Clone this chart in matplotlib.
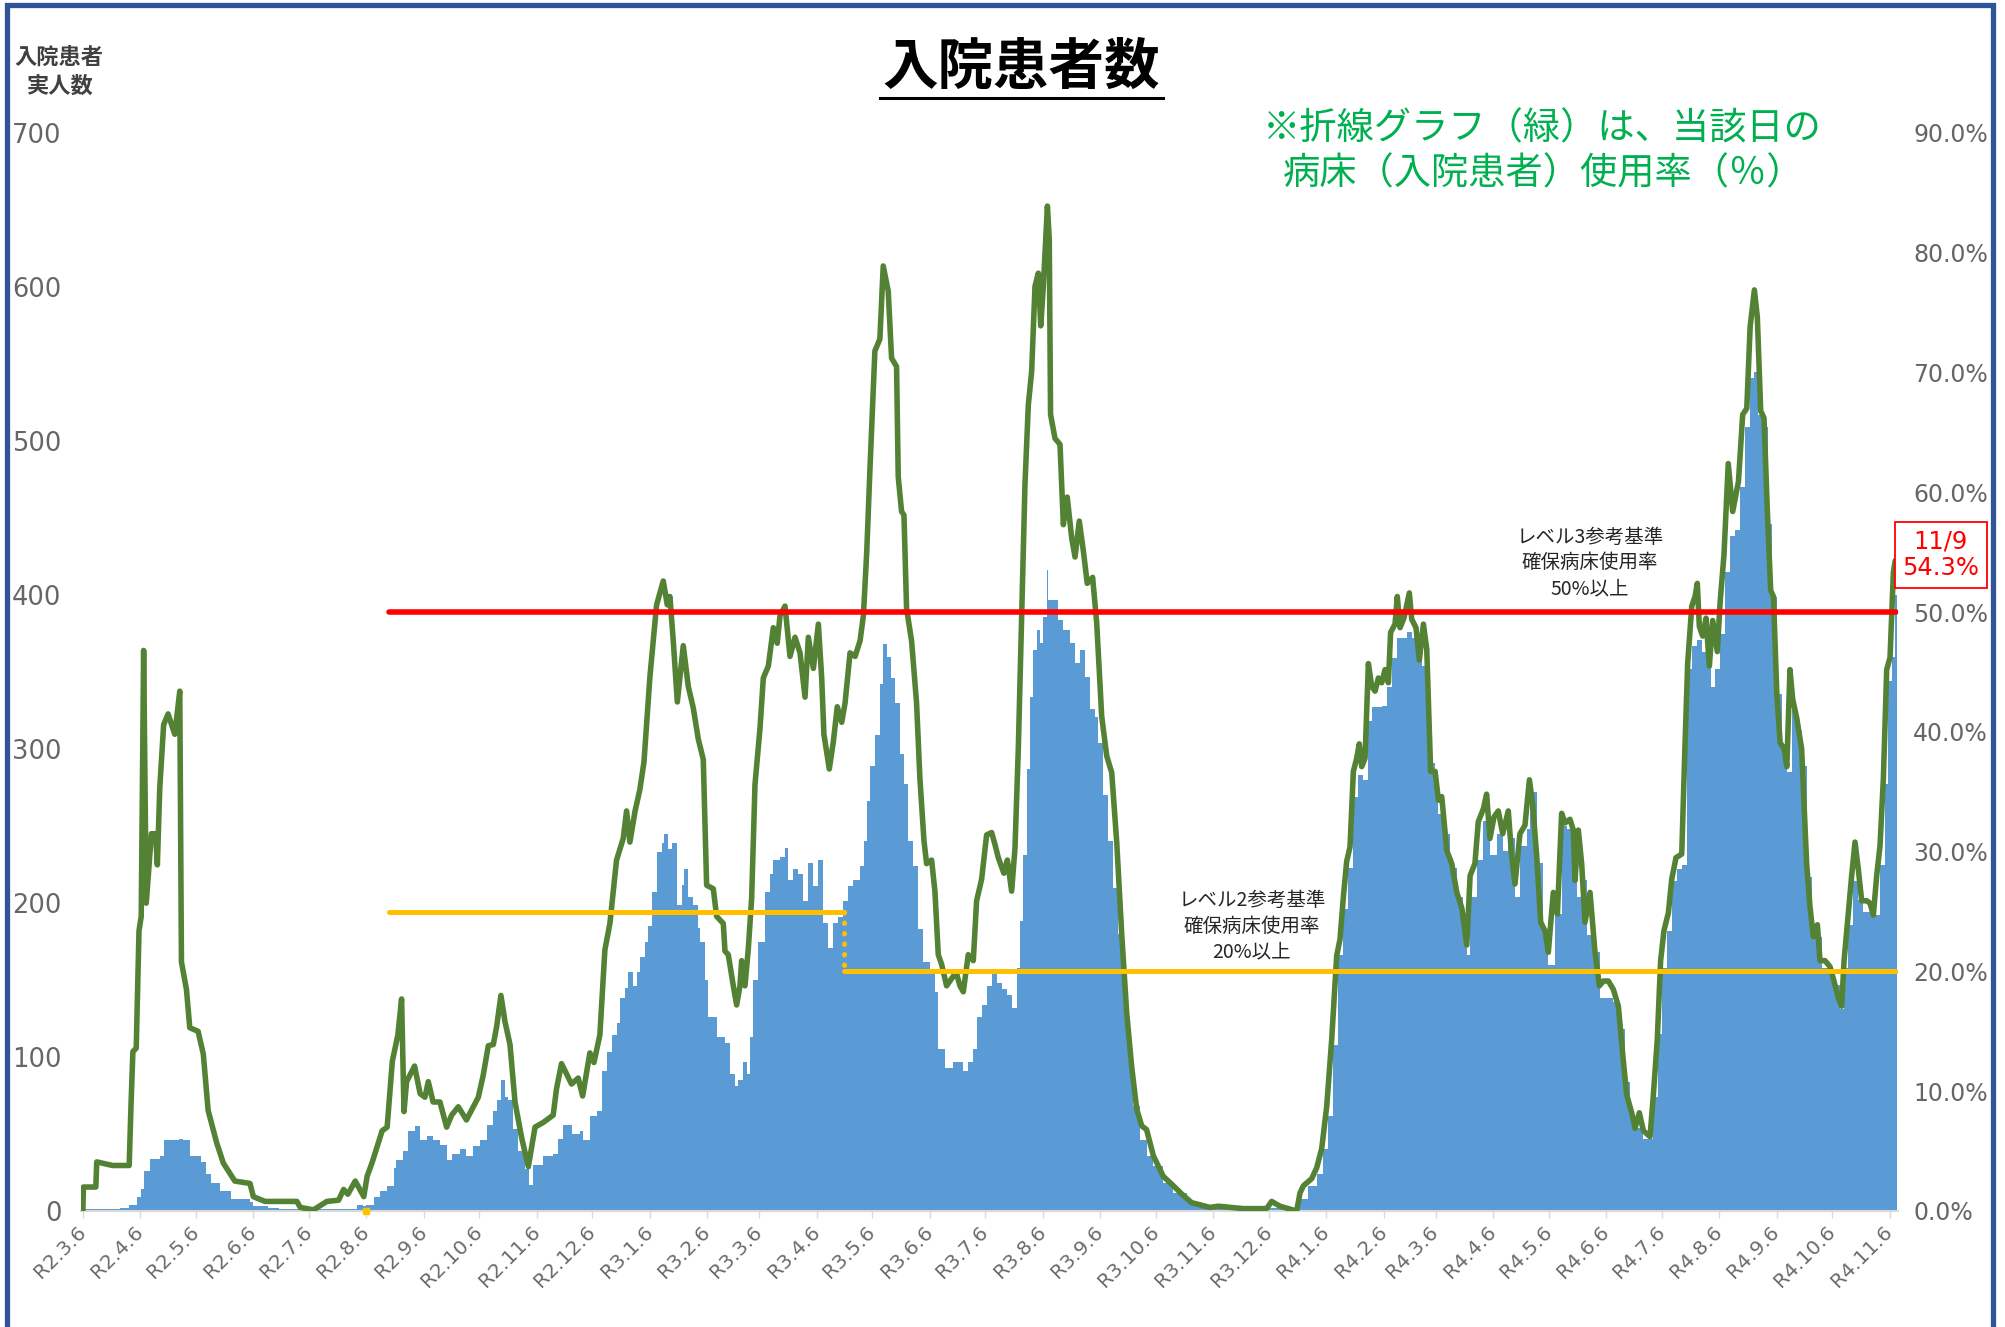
import matplotlib
matplotlib.use('Agg')
import matplotlib.pyplot as plt
import numpy as np
import pandas as pd
from matplotlib.lines import Line2D

plt.rcParams['font.family'] = ['Noto Sans CJK JP', 'DejaVu Sans']

start = pd.Timestamp('2020-03-06')

#------ 病床使用率(%)  x = days since R2.3.6 ------
rate_days = [0, 0.3, 7, 7.5, 16, 25, 26, 27, 28.8, 30.3, 31.5, 32.8, 34.2, 37, 39.3, 40.2, 41.5, 43.6, 46, 49.6,
             52.3, 53.2, 55.9, 57.7, 62.2, 65, 67.6, 72.2, 75.8, 82, 90.2, 92, 98.3, 115.5, 117.3, 124.5, 131.7, 138, 140.7, 143,
             147, 151.6, 153.4, 156, 161.5, 164.2, 167, 170, 172, 173.3, 174.7, 179, 182, 184.6, 186.4, 189, 192.7, 196.3, 199, 202.6,
             207, 210.7, 213.4, 216, 218.8, 221.5, 223.3, 225.6, 227.8, 230.5, 233.2, 236.8, 240.4, 244, 248.5, 253.8, 255.6, 258.3, 263.7, 267.3,
             269.7, 273.6, 275.8, 279, 281.7, 284.4, 288, 291.6, 293.4, 295.2, 298, 300.6, 302.8, 306, 309.6, 313.2, 315.4, 316.8, 318.6, 320.8,
             324, 326.7, 329.4, 332.1, 334.8, 336.6, 340.2, 342, 345.6, 346.5, 348.3, 351, 352.8, 354.6, 355.5, 357.3, 359.1, 360.9, 362.7, 365.4,
             367.2, 369.9, 372.6, 374.7, 376.2, 378.9, 381.6, 384.3, 387, 389.7, 391.5, 394.2, 396.9, 398.7, 399.9, 402.8, 405, 407.1, 409.5, 411.3,
             414, 416.7, 419.4, 421.2, 423, 424.7, 427.4, 430.1, 431.9, 434.6, 436.4, 439.1, 440, 441.8, 443.1, 444.5, 447.2, 449.9, 451.7, 453.9,
             455.3, 458, 459.8, 461.6, 463.4, 466.1, 469.7, 471.5, 473.3, 475.1, 477.8, 480.5, 482.3, 485, 487.7, 490.4, 492.2, 494, 497, 498.9,
             501.2, 503, 504.8, 506.6, 508.4, 510.2, 512, 513.8, 515.6, 516.9, 518.3, 520.5, 521.5, 522.2, 524.6, 527.3, 529.1, 531.2, 533.6, 535.4,
             537.7, 539.9, 542, 544.9, 547.1, 549.8, 552.5, 555.2, 557.9, 560.6, 563.3, 566, 568.7, 571.4, 574, 577.7, 583, 588.5, 593.8, 598.3,
             608.2, 612.7, 626.2, 638.8, 641.5, 646, 655, 656.8, 658.6, 663.1, 665.8, 668.5, 671.2, 673.9, 676.6, 678.4, 680.2, 682, 683.8, 685.6,
             687.4, 688.8, 690.1, 691.9, 693.7, 695.5, 697.3, 699.1, 700.9, 702.7, 704.5, 705.7, 708.1, 709.3, 710.8, 712.9, 715.8, 717.1, 719.4, 721.2,
             723.4, 725.2, 727.3, 729.7, 731.5, 733.3, 736, 738.7, 741.4, 744.1, 746.8, 748.6, 751.2, 753, 755.8, 757.5, 759.3, 761.5, 763.8, 766.2,
             769.2, 771, 772.8, 775.5, 778.2, 780.6, 782.4, 784.5, 786.7, 789, 790.8, 793.5, 795.7, 798, 799.8, 802.5, 804.3, 805.2, 807, 808.8,
             810.6, 813.3, 816, 818.4, 820.5, 823.2, 825.9, 828.6, 831.3, 833.1, 835.8, 837.6, 839.9, 842.1, 845.7, 847.5, 849.6, 851.4, 853.2, 855.6,
             857.4, 859.7, 862.8, 864.6, 866, 868.2, 870, 871.2, 872.3, 874.1, 875.9, 877.7, 879.5, 882, 883.5, 885.6, 887.9, 890.3, 893.4, 895.7,
             897.9, 899.7, 902, 903.6, 905.4, 907.2, 909, 910.8, 912.3, 914.1, 915.9, 918, 919.5, 921.2, 922.7, 924.8, 927.5, 930.2, 932, 933.8,
             936, 937.4, 940.1, 942.8, 944.6, 947.3, 949.1, 950.4, 952.7, 954.5, 956.3, 958.1, 959.9, 962.6, 964.4, 966.2, 968, 969.8, 971.6, 973.4,
             975.2, 977, 978]
rate_pct = [0, 2.0, 2.0, 4.1, 3.8, 3.8, 8.9, 13.3, 13.6, 23.4, 24.6, 46.8, 25.7, 31.5, 31.5, 28.9, 35.3, 40.6, 41.5, 39.8,
            43.4, 20.8, 18.5, 15.3, 15.0, 13.1, 8.4, 5.7, 4.0, 2.5, 2.3, 1.2, 0.8, 0.8, 0.3, 0.1, 0.8, 0.9, 1.8, 1.4,
            2.5, 1.2, 2.9, 4.0, 6.7, 7.0, 12.5, 14.7, 17.7, 8.3, 10.8, 12.1, 9.8, 9.5, 10.8, 9.1, 9.1, 7.0, 8.0, 8.7,
            7.6, 8.7, 9.5, 11.3, 13.8, 13.9, 15.4, 18.0, 15.8, 13.9, 9.1, 6.1, 3.7, 7.0, 7.4, 8.0, 10.2, 12.3, 10.6, 11.1,
            9.6, 13.2, 12.4, 14.7, 21.8, 24.0, 29.3, 31.1, 33.4, 30.8, 33.4, 35.2, 37.5, 44.6, 50.6, 52.6, 50.6, 51.3, 47.6, 42.5,
            47.2, 43.8, 42.0, 39.4, 37.7, 27.2, 26.9, 24.6, 24.0, 21.7, 21.4, 18.8, 17.2, 18.8, 20.9, 18.8, 21.9, 26.1, 35.6, 40.3,
            44.5, 45.5, 48.7, 47.4, 49.7, 50.5, 46.3, 47.9, 46.6, 42.9, 47.9, 45.3, 49.0, 44.5, 39.8, 36.9, 39.2, 42.1, 40.8, 42.4,
            46.6, 46.3, 47.6, 49.7, 55.0, 61.8, 71.8, 72.8, 78.9, 76.8, 71.2, 70.5, 61.3, 58.4, 58.1, 50.3, 47.6, 42.4, 36.1, 30.9,
            29.0, 29.3, 26.7, 21.4, 20.6, 18.8, 19.6, 19.8, 18.8, 18.3, 21.4, 20.9, 25.9, 27.7, 31.4, 31.6, 30.6, 29.5, 28.2, 29.3,
            26.7, 30.3, 38.6, 49.6, 60.7, 67.3, 70.1, 77.2, 78.3, 73.9, 77.2, 83.9, 81.1, 66.5, 64.5, 64.0, 57.3, 59.6, 56.2, 54.6,
            57.6, 55.1, 52.4, 52.9, 49.1, 41.3, 38.0, 36.6, 30.8, 23.1, 16.5, 12.0, 8.5, 7.1, 6.8, 4.6, 2.9, 2.1, 1.3, 0.7,
            0.3, 0.4, 0.2, 0.2, 0.8, 0.4, 0.0, 1.5, 2.1, 2.7, 3.6, 5.2, 8.7, 14.3, 21.3, 22.7, 26.2, 29.2, 30.4, 36.7,
            37.8, 39.0, 37.1, 37.8, 45.7, 43.8, 43.4, 44.5, 44.1, 45.2, 44.1, 48.3, 49.0, 51.3, 48.7, 49.5, 51.6, 49.4, 48.7, 46.0,
            49.0, 46.9, 36.7, 36.7, 34.3, 34.6, 30.1, 29.0, 26.6, 25.3, 22.2, 28.0, 29.0, 32.5, 33.6, 34.8, 31.1, 32.9, 33.4, 31.5,
            33.4, 29.7, 27.3, 31.5, 32.2, 36.0, 33.9, 29.7, 24.1, 23.4, 21.6, 26.6, 24.8, 33.2, 32.4, 32.7, 31.8, 27.6, 31.8, 29.0,
            24.1, 26.6, 21.6, 18.8, 19.2, 19.2, 18.5, 17.1, 12.5, 9.7, 8.2, 6.9, 8.2, 6.7, 6.2, 9.7, 14.3, 20.9, 23.4, 24.9,
            27.7, 29.5, 29.8, 39.1, 45.7, 50.5, 51.3, 52.4, 48.8, 48.0, 49.5, 45.5, 49.3, 46.7, 50.8, 54.8, 62.4, 58.4, 60.9, 66.5,
            67.0, 73.8, 76.9, 74.6, 66.8, 66.2, 58.4, 51.8, 51.3, 43.2, 39.1, 38.6, 37.1, 45.2, 42.7, 41.2, 38.6, 29.0, 25.4, 22.9,
            23.9, 20.9, 20.9, 20.4, 19.4, 17.8, 17.1, 20.9, 24.9, 28.0, 30.8, 28.5, 25.9, 25.9, 25.7, 24.7, 28.0, 30.5, 36.1, 45.2,
            46.2, 53.3, 54.3]

#------ 入院患者実人数 ------
patient_days = [0, 10, 20, 25, 29, 31.5, 33, 36, 41.5, 44, 52, 54, 57.7, 64, 66.7, 69.4, 74, 80, 90, 92,
                100, 106, 142, 148, 151, 153, 157, 160.6, 164, 168, 169, 173, 175.6, 179, 182, 185.5, 189, 192.7, 196.3, 199,
                203.5, 207, 210.7, 214.3, 218, 221.5, 223.3, 225.6, 227.8, 229.6, 232.3, 235, 238.6, 240.9, 243, 248.5, 253.8, 256.6, 259.2, 263.7,
                268.2, 270, 273.6, 277.2, 280, 282.6, 285.3, 288, 289.8, 292.5, 294.3, 297, 298.8, 300.6, 303.3, 305.1, 306.9, 309.6, 312.3, 313.6,
                315.9, 317.7, 320.4, 323.1, 324.4, 326.7, 329.4, 332.1, 333, 335.7, 337.5, 342, 346.5, 349.2, 351.9, 353.7, 356, 358.2, 360, 361.8,
                364.5, 368.1, 370.8, 372.6, 376.2, 378.9, 380.7, 383.4, 386.1, 388.8, 391.5, 394.2, 396.9, 399.6, 402.3, 405, 407.7, 410.4, 413.1, 415.8,
                419.4, 421.5, 423, 424.7, 427.4, 430.1, 431.9, 433.7, 435.9, 438.2, 440.9, 443.1, 445.4, 448.1, 450.8, 453.5, 457.1, 459.8, 461.6, 465.2,
                469.7, 472.4, 475.1, 477.8, 480.5, 482.3, 485, 487.7, 490.4, 493.1, 495.8, 498.5, 501.2, 503.9, 505.7, 507.5, 509.3, 511.1, 512.9, 514.7,
                516.5, 518.3, 520.1, 521, 523.7, 526.4, 529.1, 532.7, 535.4, 538.1, 540.8, 543.5, 546.2, 548, 550.7, 553.4, 556.1, 558.8, 561.5, 564.2,
                566.9, 570.5, 574.1, 577.7, 583, 588.5, 595.6, 601, 608, 640, 650, 656.8, 661.3, 665.8, 669.4, 672.1, 674.8, 677.5, 680.2, 682.9,
                685.6, 688.3, 691, 693.7, 695.5, 698.2, 700.9, 703.6, 706.3, 709, 711.7, 714.4, 717.1, 719.8, 722.5, 725.2, 727.3, 729.7, 731.5, 734.2,
                737.8, 741.4, 745, 746.8, 748.6, 752.2, 755.8, 759.3, 762.9, 766.5, 769.2, 772.8, 775.5, 779.1, 780.9, 784.5, 788.1, 790.8, 794.4, 798,
                800.7, 804.3, 806.1, 808.8, 811.5, 815.1, 818.7, 822.3, 825.9, 829.4, 832.2, 834.9, 838.5, 842.1, 845.7, 847.5, 850.2, 852, 854.7, 857.4,
                860.1, 862.8, 865.5, 868.2, 870.9, 873.6, 876.3, 878.4, 880.8, 883.5, 886.2, 888.9, 891.6, 894.3, 897, 899.7, 902, 904.2, 906.9, 909.6,
                911.4, 914.1, 916.8, 919.5, 922.2, 924.8, 927.5, 930.2, 932.9, 935.6, 938.3, 941, 944.6, 948.2, 950.4, 952.7, 955.4, 958.1, 960.8, 964.4,
                967.1, 969.8, 972.5, 974.3, 976.1, 978]
patients = [1, 1, 2, 4, 9, 14, 26, 34, 36, 46, 47, 46, 36, 32, 24, 18, 13, 8, 6, 3,
            2, 1, 1, 4, 3, 4, 9, 13, 16, 28, 33, 39, 52, 55, 46, 49, 46, 43, 33, 37,
            40, 36, 42, 46, 56, 65, 72, 85, 74, 72, 53, 39, 27, 17, 30, 36, 37, 47, 56, 50,
            52, 46, 62, 65, 91, 103, 114, 122, 138, 145, 155, 146, 155, 165, 175, 185, 207, 233, 239, 245,
            235, 239, 199, 212, 222, 204, 199, 184, 175, 150, 126, 113, 109, 89, 81, 85, 97, 89, 113, 150,
            175, 207, 219, 228, 230, 236, 215, 222, 219, 201, 226, 211, 228, 187, 171, 187, 191, 201, 211, 215,
            224, 240, 266, 289, 309, 342, 368, 360, 346, 330, 297, 277, 240, 224, 183, 162, 156, 142, 105, 93,
            97, 97, 91, 97, 105, 126, 134, 146, 154, 148, 144, 140, 132, 158, 188, 231, 287, 334, 364, 377,
            369, 386, 416, 397, 397, 384, 377, 369, 356, 364, 347, 326, 321, 304, 270, 240, 210, 180, 137, 99,
            68, 46, 36, 29, 18, 12, 6, 3, 2, 2, 1, 8, 16, 24, 40, 62, 108, 166, 196, 223,
            269, 283, 280, 318, 327, 327, 328, 340, 359, 372, 372, 376, 372, 357, 354, 329, 291, 280, 258, 245,
            223, 204, 177, 166, 204, 228, 253, 231, 245, 234, 242, 204, 237, 248, 272, 226, 182, 160, 193, 250,
            248, 237, 204, 215, 179, 168, 138, 138, 136, 118, 84, 60, 54, 47, 47, 74, 115, 158, 182, 214,
            222, 225, 352, 367, 371, 363, 363, 340, 352, 375, 415, 438, 442, 470, 509, 541, 545, 517, 509, 446,
            399, 336, 296, 285, 328, 312, 289, 217, 186, 178, 158, 158, 147, 131, 158, 186, 214, 202, 194, 194,
            192, 225, 277, 344, 360, 400]

# reference levels (%)
level3_pct = 50
level2_old_pct = 25
level2_pct = 20
level_start = '2020-08-18'
level2_change = '2021-04-21'
last_date = '2022-11-09'
last_label = '11/9\n54.3%'


def dayof(s):
    return (pd.Timestamp(s) - start).days


months = pd.date_range('2020-03-06', '2022-11-06', freq=pd.DateOffset(months=1))
tick_days = [(m - start).days for m in months]
tick_labels = ['R%d.%d.6' % (m.year - 2018, m.month) for m in months]

W, H = 2005, 1327
fig = plt.figure(figsize=(W / 100, H / 100), dpi=100)
ax = fig.add_axes([81 / W, 1 - 1211 / H, (1898 - 81) / W, (1211 - 133) / H])

# bars (patients)
pd_arr = np.array(patient_days)
widths = np.diff(np.append(pd_arr, dayof(last_date) + 1))
ax.bar(pd_arr, patients, width=widths, align='edge', color='#5B9BD5', linewidth=0, zorder=1)
ax.set_xlim(-1, 979.5)
ax.set_ylim(0, 700)

ax2 = ax.twinx()
ax2.set_ylim(0, 90)
ax2.plot(rate_days, rate_pct, color='#548235', lw=4.0, solid_joinstyle='round', solid_capstyle='round', zorder=3)

d0, d1, d2 = dayof(level_start), dayof(level2_change), dayof(last_date) + 0.5
ax2.plot([d0, d2], [level3_pct, level3_pct], color='#FF0000', lw=4.0, solid_capstyle='round', zorder=4)
ax2.plot([d0, d1], [level2_old_pct, level2_old_pct], color='#FFC000', lw=3.6, solid_capstyle='round', zorder=4)
ax2.plot([d1, d1], [level2_old_pct, level2_pct], color='#FFC000', lw=3.6, linestyle=(0, (0.1, 2.0)),
         dash_capstyle='round', zorder=4)
ax2.plot([d1, d2], [level2_pct, level2_pct], color='#FFC000', lw=3.6, solid_capstyle='round', zorder=4)
ax2.plot([dayof('2020-08-06')], [0], marker='s', ms=4, color='#FFC000', clip_on=False, zorder=4)

for a in (ax, ax2):
    for s in a.spines.values():
        s.set_visible(False)
ax.spines['bottom'].set_visible(True)
ax.spines['bottom'].set_color('#D9D9D9')
ax.spines['bottom'].set_linewidth(1.5)

ax.set_xticks(tick_days)
ax.set_xticklabels(tick_labels, rotation=45, ha='right', va='center', rotation_mode='anchor',
                   fontfamily='DejaVu Sans')
ax.tick_params(axis='x', length=5, width=1, color='#D9D9D9', labelsize=14.5, labelcolor='#6B6B6B', pad=8)

ax.set_yticks(range(0, 701, 100))
ax.set_yticklabels([str(v) for v in range(0, 701, 100)], fontfamily='DejaVu Sans')
ax.tick_params(axis='y', length=0, pad=14, labelsize=18.5, labelcolor='#666666')

ax2.set_yticks(range(0, 91, 10))
ax2.set_yticklabels(['%.1f%%' % v for v in range(0, 91, 10)], fontfamily='DejaVu Sans')
ax2.tick_params(axis='y', length=0, pad=11, labelsize=17, labelcolor='#666666')

# title
fig.text(1021 / W, 1 - 68 / H, '入院患者数', ha='center', va='center', fontsize=40, fontweight='bold', color='black')
fig.add_artist(Line2D([880 / W, 1163 / W], [1 - 98 / H, 1 - 98 / H], color='black', lw=2.2))

fig.text(59 / W, 1 - 72 / H, '入院患者\n実人数', ha='center', va='center', fontsize=16, fontweight='bold',
         color='#404040', linespacing=1.3)

fig.text(1263 / W, 1 - 129 / H, '※折線グラフ（緑）は、当該日の', ha='left', va='center', fontsize=26.8, color='#00B050')
fig.text(1283 / W, 1 - 174 / H, '病床（入院患者）使用率（％）', ha='left', va='center', fontsize=26.8, color='#00B050')

fig.text(1590 / W, 1 - 563 / H, 'レベル3参考基準\n確保病床使用率\n50%以上', ha='center', va='center',
         fontsize=14, color='#262626', linespacing=1.3)
fig.text(1252 / W, 1 - 926 / H, 'レベル2参考基準\n確保病床使用率\n20%以上', ha='center', va='center',
         fontsize=14, color='#262626', linespacing=1.3)

fig.text(1941 / W, 1 - 555 / H, last_label, ha='center', va='center', fontsize=17.5, color='#FF0000',
         fontfamily='DejaVu Sans', linespacing=1.15,
         bbox=dict(boxstyle='square,pad=0.3', fc='white', ec='#FF0000', lw=1.3))

# outer frame (no bottom edge)
fig.add_artist(Line2D([7 / W, 7 / W, 1993 / W, 1993 / W], [-0.05, 1 - 5 / H, 1 - 5 / H, -0.05],
                      color='#2F5597', lw=3.8, solid_joinstyle='miter'))

fig.savefig('out.png', dpi=100)
